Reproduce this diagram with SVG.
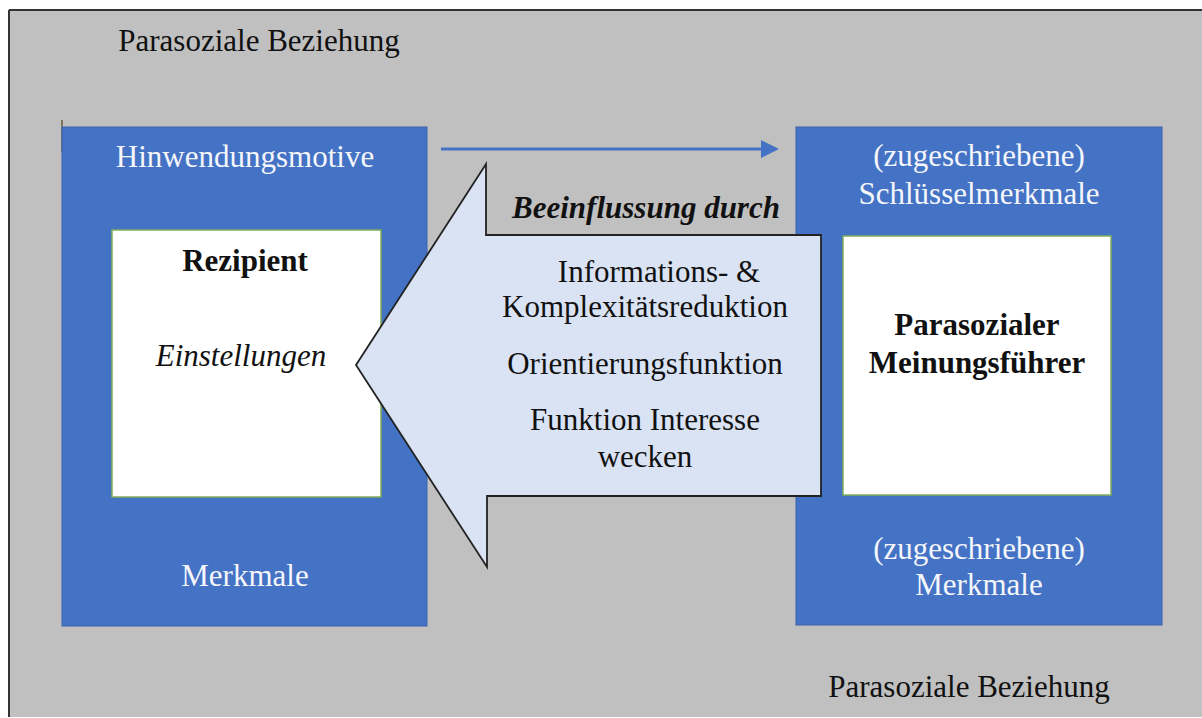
<svg xmlns="http://www.w3.org/2000/svg" width="1202" height="718" viewBox="0 0 1202 718">
<style>
text{font-family:"Liberation Serif","Times New Roman",serif;font-size:31px;text-anchor:middle}
.dk{fill:#111}
.wt{fill:#f4f6fb}
.b{font-weight:bold}
.i{font-style:italic}
.blue{fill:#4472c4;stroke:#3a63ad;stroke-width:1}
.inner{fill:#ffffff;stroke:#7fae5a;stroke-width:1.5}
</style>
<defs>
<marker id="ah" markerWidth="6" markerHeight="6" refX="5" refY="3" orient="auto" markerUnits="strokeWidth">
<path d="M0,0 L6,3 L0,6 Z" fill="#4472c4"/>
</marker>
</defs>
<rect x="0" y="0" width="1202" height="718" fill="#ffffff"/>
<g id="frame">
<rect x="9" y="10" width="1193" height="707" fill="#c0c0c0"/>
<line x1="9" y1="10" x2="1202" y2="10" stroke="#333" stroke-width="2"/>
<line x1="9" y1="10" x2="9" y2="717" stroke="#333" stroke-width="2"/>
<text class="dk" x="259" y="51">Parasoziale Beziehung</text>
<text class="dk" x="969" y="697">Parasoziale Beziehung</text>
</g>
<g id="recipient">
<line x1="62" y1="120" x2="62" y2="152" stroke="#6b5a3a" stroke-width="1.5"/>
<rect class="blue" x="62" y="127" width="365" height="499"/>
<text class="wt" x="245" y="167">Hinwendungsmotive</text>
<rect class="inner" x="112" y="230" width="269" height="267"/>
<text class="dk b" x="245" y="271">Rezipient</text>
<text class="dk i" x="241" y="366">Einstellungen</text>
<text class="wt" x="245" y="586">Merkmale</text>
</g>
<g id="opinion-leader">
<rect class="blue" x="796" y="127" width="366" height="498"/>
<text class="wt" x="979" y="166">(zugeschriebene)</text>
<text class="wt" x="979" y="204">Schlüsselmerkmale</text>
<rect class="inner" x="843" y="236" width="268" height="259"/>
<text class="dk b" x="977" y="335">Parasozialer</text>
<text class="dk b" x="977" y="373">Meinungsführer</text>
<text class="wt" x="979" y="559">(zugeschriebene)</text>
<text class="wt" x="979" y="595">Merkmale</text>
</g>
<g id="influence">
<polygon points="356,365 486,164 486,235 821,235 821,496 487,496 487,567" fill="#dae3f3" stroke="#222" stroke-width="1.8" stroke-linejoin="miter"/>
<text class="dk b i" x="646" y="218">Beeinflussung durch</text>
<text class="dk" x="659" y="282">Informations- &amp;</text>
<text class="dk" x="645" y="317">Komplexitätsreduktion</text>
<text class="dk" x="645" y="374">Orientierungsfunktion</text>
<text class="dk" x="645" y="430">Funktion Interesse</text>
<text class="dk" x="645" y="467">wecken</text>
</g>
<g id="connectors">
<line x1="441" y1="149" x2="776" y2="149" stroke="#4472c4" stroke-width="3" marker-end="url(#ah)"/>
</g>
</svg>
